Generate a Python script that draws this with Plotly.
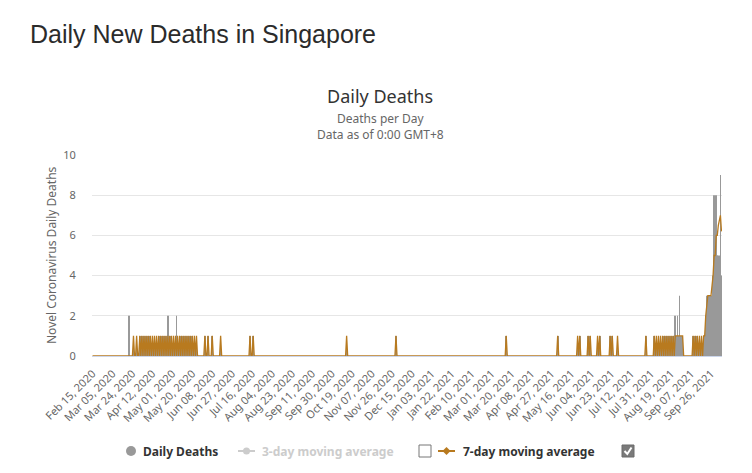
import pandas as pd
import plotly.graph_objects as go

# ---------------- data ----------------
start_date = "2020-02-15"
end_date = "2021-10-06"

# days on which the daily-deaths bar is 1
death_one_dates = [
    "2020-03-25", "2020-03-28", "2020-03-31", "2020-04-02", "2020-04-04", "2020-04-06",
    "2020-04-08", "2020-04-10", "2020-04-12", "2020-04-14", "2020-04-16", "2020-04-18",
    "2020-04-20", "2020-04-22", "2020-04-24", "2020-04-26", "2020-04-28", "2020-04-30",
    "2020-05-02", "2020-05-04", "2020-05-06", "2020-05-08", "2020-05-10", "2020-05-12",
    "2020-05-14", "2020-05-16", "2020-05-18", "2020-05-20", "2020-05-22", "2020-05-24",
    "2020-06-01", "2020-06-04", "2020-06-08", "2020-06-16", "2020-07-14", "2020-07-17",
    "2020-10-14", "2020-11-30", "2021-03-15", "2021-05-03", "2021-05-22", "2021-05-24",
    "2021-06-01", "2021-06-03", "2021-06-10", "2021-06-12", "2021-06-22", "2021-06-24",
    "2021-06-29", "2021-07-26", "2021-08-03", "2021-08-05", "2021-08-07", "2021-08-09",
    "2021-08-11", "2021-08-13", "2021-08-15", "2021-08-17", "2021-08-19", "2021-08-21",
    "2021-08-24", "2021-08-26", "2021-08-28", "2021-08-29", "2021-08-30", "2021-09-09",
    "2021-09-11", "2021-09-13", "2021-09-15", "2021-09-17", "2021-09-19", "2021-09-20",
]
# days on which the daily-deaths bar is above 1
death_multi_dates = [
    "2020-03-21", "2020-04-27", "2020-05-05", "2021-08-23", "2021-08-25", "2021-08-27",
    "2021-09-21", "2021-09-22", "2021-09-23", "2021-09-24", "2021-09-25", "2021-09-26",
    "2021-09-27", "2021-09-28", "2021-09-29", "2021-09-30", "2021-10-01", "2021-10-02",
    "2021-10-03", "2021-10-04", "2021-10-05", "2021-10-06",
]
death_multi_values = [
    2, 2, 2, 2, 2, 3,
    2, 3, 2, 3, 3, 3,
    3, 4, 8, 5, 8, 5,
    5, 5, 9, 4,
]

# days on which the orange 7-day moving-average line touches 1
ma_one_dates = [
    "2020-03-25", "2020-03-28", "2020-03-31", "2020-04-02", "2020-04-04", "2020-04-06",
    "2020-04-08", "2020-04-10", "2020-04-12", "2020-04-14", "2020-04-16", "2020-04-18",
    "2020-04-20", "2020-04-22", "2020-04-24", "2020-04-26", "2020-04-28", "2020-04-30",
    "2020-05-02", "2020-05-04", "2020-05-06", "2020-05-08", "2020-05-10", "2020-05-12",
    "2020-05-14", "2020-05-16", "2020-05-18", "2020-05-20", "2020-05-22", "2020-05-24",
    "2020-06-01", "2020-06-04", "2020-06-08", "2020-06-16", "2020-07-14", "2020-07-17",
    "2020-10-14", "2020-11-30", "2021-03-15", "2021-05-03", "2021-05-22", "2021-05-24",
    "2021-06-01", "2021-06-03", "2021-06-10", "2021-06-12", "2021-06-22", "2021-06-24",
    "2021-06-29", "2021-07-26", "2021-08-03", "2021-08-05", "2021-08-07", "2021-08-09",
    "2021-08-11", "2021-08-13", "2021-08-15", "2021-08-17", "2021-08-19", "2021-08-21",
    "2021-08-23", "2021-08-24", "2021-08-25", "2021-08-26", "2021-08-27", "2021-08-28",
    "2021-08-29", "2021-08-30", "2021-09-09", "2021-09-11", "2021-09-13", "2021-09-15",
    "2021-09-17", "2021-09-19",
]
# the final rise of the orange line
ma_tail_dates = [
    "2021-09-20", "2021-09-21", "2021-09-22", "2021-09-23", "2021-09-24", "2021-09-25",
    "2021-09-26", "2021-09-27", "2021-09-28", "2021-09-29", "2021-09-30", "2021-10-01",
    "2021-10-02", "2021-10-03", "2021-10-04", "2021-10-05", "2021-10-06",
]
ma_tail_values = [
    1, 2, 2.5, 3, 3, 3,
    3, 3.5, 4, 5, 5, 6,
    6, 6.5, 6.8, 7, 6.2,
]

tick_every_days = 19
y_tick_values = [0, 2, 4, 6, 8, 10]

# ---------------- build series ----------------
days = pd.date_range(start_date, end_date, freq="D")
categories = [d.strftime("%b %d, %Y") for d in days]

daily = pd.Series(0.0, index=days)
for d in death_one_dates:
    daily[pd.Timestamp(d)] = 1
for d, v in zip(death_multi_dates, death_multi_values):
    daily[pd.Timestamp(d)] = v

ma7 = pd.Series(0.0, index=days)
for d in ma_one_dates:
    ma7[pd.Timestamp(d)] = 1
for d, v in zip(ma_tail_dates, ma_tail_values):
    ma7[pd.Timestamp(d)] = v

# ---------------- geometry helpers (window pixels -> paper) ----------------
OFF = 8                      # default body margin of the html page
WIN_W, WIN_H = 752, 473
W, H = WIN_W - OFF, WIN_H - OFF
L, R, T, B = 92, 722, 155, 356   # plot area in window pixels


def px(x):
    return (x - L) / (R - L)


def py(y):
    return (B - y) / (B - T)


FONT = "Noto Sans"
ORANGE = "#b87a1f"
GREY = "#999999"

fig = go.Figure()
fig.add_trace(go.Bar(
    x=categories, y=daily.values, name="Daily Deaths",
    marker=dict(color=GREY, line=dict(width=0)),
))
fig.add_trace(go.Scatter(
    x=categories, y=ma7.values, name="7-day moving average",
    mode="lines", line=dict(color=ORANGE, width=1.3),
))

annotations = []


def text(x, y, s, size, color, xanchor="center", family=FONT, angle=0):
    annotations.append(dict(
        x=px(x), y=py(y), xref="paper", yref="paper", text=s, showarrow=False,
        xanchor=xanchor, yanchor="middle", textangle=angle,
        font=dict(family=family, size=size, color=color),
    ))


text(28, 34, "Daily New Deaths in Singapore", 25, "#2b2b2b", xanchor="left",
     family="Liberation Sans")
text(380, 96, "Daily Deaths", 18, "#333333")
text(380, 126, "Deaths per Day<br>Data as of 0:00 GMT+8", 12, "#666666")
text(51, 255, "Novel Coronavirus Daily Deaths", 12, "#666666", angle=-90)

# custom legend
LY = 451
text(141, LY, "<b>Daily Deaths</b>", 12, "#333333", xanchor="left")
text(260, LY, "<b>3-day moving average</b>", 12, "#cccccc", xanchor="left")
text(461, LY, "<b>7-day moving average</b>", 12, "#333333", xanchor="left")

shapes = []


def pshape(**kw):
    kw.setdefault("xref", "paper")
    kw.setdefault("yref", "paper")
    shapes.append(kw)


# grey circle
pshape(type="circle", x0=px(126), x1=px(136), y0=py(LY + 5), y1=py(LY - 5),
       fillcolor=GREY, line=dict(width=0))
# 3-day icon
pshape(type="line", x0=px(238), x1=px(255), y0=py(LY), y1=py(LY),
       line=dict(color="#cccccc", width=2))
pshape(type="circle", x0=px(243), x1=px(250), y0=py(LY + 3.5), y1=py(LY - 3.5),
       fillcolor="#cccccc", line=dict(width=0))
# checkbox 1 (unchecked)
pshape(type="rect", x0=px(419), x1=px(431), y0=py(LY + 6), y1=py(LY - 6),
       fillcolor="white", line=dict(color="#777777", width=1))
# 7-day icon
pshape(type="line", x0=px(438), x1=px(455), y0=py(LY), y1=py(LY),
       line=dict(color=ORANGE, width=2))
dpath = "M {} {} L {} {} L {} {} L {} {} Z".format(
    px(446.5), py(LY - 4), px(450.5), py(LY), px(446.5), py(LY + 4), px(442.5), py(LY))
pshape(type="path", path=dpath, fillcolor=ORANGE, line=dict(width=0))
# checkbox 2 (checked)
pshape(type="rect", x0=px(622), x1=px(634), y0=py(LY + 6), y1=py(LY - 6),
       fillcolor="#7a7a7a", line=dict(color="#6a6a6a", width=1))
cpath = "M {} {} L {} {} L {} {}".format(
    px(624.5), py(LY), px(627.3), py(LY + 3), px(631.5), py(LY - 3.5))
pshape(type="path", path=cpath, line=dict(color="white", width=2))

fig.update_layout(
    width=W, height=H,
    margin=dict(l=L - OFF, r=WIN_W - R, t=T - OFF, b=WIN_H - B, pad=0),
    paper_bgcolor="white", plot_bgcolor="white",
    showlegend=False, bargap=0.3,
    font=dict(family=FONT, color="#666666"),
    annotations=annotations, shapes=shapes,
    xaxis=dict(
        type="category", range=[-0.5, len(categories) - 0.5],
        tickmode="array", tickvals=categories[::tick_every_days],
        ticktext=categories[::tick_every_days],
        tickangle=-45, tickfont=dict(size=11, color="#666666", family=FONT),
        ticks="outside", ticklen=6, tickcolor="rgba(0,0,0,0)",
        showgrid=False, showline=True, linecolor="#ccd6eb", linewidth=1,
        zeroline=False, fixedrange=True,
    ),
    yaxis=dict(
        range=[0, 10], tickmode="array", tickvals=y_tick_values,
        tickfont=dict(size=11, color="#666666", family=FONT),
        ticks="outside", ticklen=13, tickcolor="rgba(0,0,0,0)",
        showgrid=True, gridcolor="#e6e6e6", gridwidth=1,
        zeroline=False, showline=False, fixedrange=True,
    ),
)

fig.write_html("out.html")
